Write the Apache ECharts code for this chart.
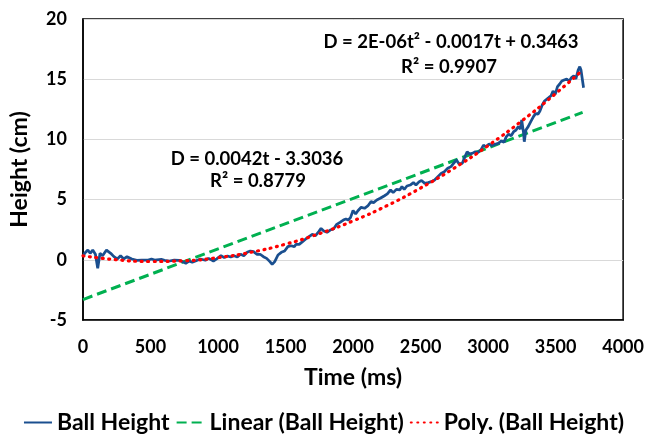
<!DOCTYPE html>
<html>
<head>
<meta charset="utf-8">
<script src="https://cdn.jsdelivr.net/npm/echarts@6/dist/echarts.min.js"></script>
<style>
html,body{margin:0;padding:0;background:#fff;}
#main{width:647px;height:434px;}
</style>
</head>
<body>
<div id="main"></div>
<script>
// Ball Height - measured (ms, cm)
var timeMs = [0, 12, 36, 53, 72, 92, 109, 126, 145, 174, 188, 205, 229, 254, 278, 302, 326, 362, 398, 435,
  483, 507, 531, 580, 604, 640, 676, 712, 737, 761, 785, 809, 833, 869, 906, 930, 966, 990,
  1022, 1046, 1070, 1094, 1118, 1143, 1167, 1191, 1215, 1239, 1263, 1287, 1312, 1336, 1360, 1384, 1401, 1420,
  1444, 1469, 1493, 1517, 1541, 1565, 1577, 1601, 1626, 1650, 1674, 1698, 1722, 1746, 1763, 1783, 1807, 1831,
  1855, 1879, 1903, 1928, 1947, 1964, 1981, 2000, 2019, 2036, 2060, 2085, 2109, 2133, 2152, 2176, 2201, 2230,
  2254, 2278, 2297, 2321, 2346, 2362, 2379, 2399, 2423, 2447, 2466, 2490, 2507, 2531, 2556, 2580, 2604, 2628,
  2652, 2676, 2701, 2725, 2749, 2766, 2785, 2809, 2829, 2845, 2862, 2882, 2906, 2925, 2949, 2966, 2983, 3007,
  3027, 3051, 3075, 3099, 3118, 3135, 3152, 3171, 3190, 3207, 3224, 3239, 3249, 3263, 3268, 3280, 3297, 3316,
  3336, 3353, 3369, 3384, 3401, 3418, 3432, 3449, 3466, 3481, 3497, 3514, 3529, 3546, 3563, 3582, 3601, 3618,
  3635, 3650, 3667, 3679, 3688, 3707];
var heightCm = [0.26, 0.54, 0.81, 0.54, 0.81, 0.46, -0.71, 0.54, 0.34, 0.81, 0.75, 0.54, 0.26, 0.07, 0.34, 0.07, 0.26, 0.07, -0.04, -0.02,
  -0.02, 0.07, -0.02, 0.03, -0.04, -0.10, -0.02, -0.04, -0.15, -0.29, -0.10, -0.21, -0.10, 0.07, -0.04, 0.12, -0.10, 0.07,
  0.34, 0.18, 0.32, 0.23, 0.34, 0.23, 0.46, 0.34, 0.62, 0.73, 0.68, 0.46, 0.46, 0.26, 0.12, -0.15, -0.38, -0.15,
  0.40, 0.62, 0.73, 1.09, 1.17, 1.09, 1.28, 1.28, 1.51, 1.73, 1.92, 2.11, 2.00, 2.34, 2.61, 2.39, 2.28, 2.47,
  2.56, 2.94, 3.11, 3.30, 3.39, 3.30, 3.50, 4.10, 3.80, 4.08, 4.36, 4.28, 4.47, 4.83, 4.75, 4.97, 5.11, 5.30,
  5.47, 5.80, 5.58, 5.85, 5.80, 6.08, 5.85, 6.13, 6.21, 6.41, 6.21, 6.49, 6.58, 6.35, 6.41, 6.49, 6.63, 6.91,
  7.18, 7.32, 7.60, 7.74, 8.07, 8.29, 7.96, 8.01, 8.57, 8.98, 8.79, 8.84, 8.98, 8.90, 9.17, 9.53, 9.39, 9.62,
  9.48, 9.59, 9.67, 9.87, 9.76, 10.23, 10.42, 10.31, 10.65, 10.78, 11.06, 10.86, 11.61, 10.50, 9.81, 10.78, 11.06, 11.47,
  11.89, 12.16, 12.08, 12.36, 12.86, 13.19, 13.27, 13.47, 13.63, 14.02, 13.74, 14.38, 14.58, 14.85, 14.94, 15.02, 14.85, 15.13,
  15.29, 15.02, 15.76, 16.04, 15.76, 14.29];

// Linear trendline (read at ends)
var linTime = [0, 3700];
var linHeight = [-3.30, 12.24];

// Poly trendline
var polyTime = [0, 250, 500, 750, 1000, 1250, 1500, 1750, 2000, 2250, 2500, 2750, 3000, 3250, 3500, 3700];
var polyHeight = [0.33, 0.0, -0.14, -0.08, 0.18, 0.64, 1.3, 2.17, 3.23, 4.49, 5.96, 7.62, 9.48, 11.54, 13.8, 15.76];

var xTicks = [0, 4000, 500];
var yTicks = [-5, 20, 5];

function pairs(xs, ys){
	var out = [];
	for(var i=0;i<xs.length;i++){
		out.push([xs[i], ys[i]]);
	}
	return out;
}

var FONT = 'Lato';
var myChart = echarts.init(document.getElementById('main'));

var option = {
	animation: false,
	grid: {
		left: 74, right: 21, top: 19, bottom: 114,
		show: true,
		borderColor: '#000',
		borderWidth: 1.5,
		backgroundColor: 'transparent'
	},
	xAxis: {
		type: 'value',
		min: xTicks[0], max: xTicks[1], interval: xTicks[2],
		name: 'Time (ms)',
		nameLocation: 'middle',
		nameGap: 46,
		nameTextStyle: {fontFamily: FONT, fontWeight: 'bold', fontSize: 23, color: '#000'},
		axisLine: {show: true, onZero: false, lineStyle: {color: '#000', width: 1.5}},
		axisTick: {show: false},
		splitLine: {show: false},
		axisLabel: {margin: 18, fontFamily: FONT, fontWeight: 'bold', fontSize: 18, color: '#000',
			formatter: function(v){ return String(v); }}
	},
	yAxis: {
		type: 'value',
		min: yTicks[0], max: yTicks[1], interval: yTicks[2],
		name: 'Height (cm)',
		nameLocation: 'middle',
		nameGap: 52,
		nameTextStyle: {fontFamily: FONT, fontWeight: 'bold', fontSize: 23, color: '#000'},
		axisLine: {show: true, lineStyle: {color: '#000', width: 1.5}},
		axisTick: {show: false},
		splitLine: {show: true, lineStyle: {color: '#d9d9d9', width: 1}},
		axisLabel: {margin: 16, fontFamily: FONT, fontWeight: 'bold', fontSize: 18, color: '#000',
			formatter: function(v){ return String(v); }}
	},
	legend: {
		top: 406,
		left: 'center',
		itemWidth: 28,
		itemHeight: 14,
		itemGap: 6,
		itemStyle: {opacity: 0},
		textStyle: {fontFamily: FONT, fontWeight: 'bold', fontSize: 23, color: '#000'},
		data: ['Ball Height', 'Linear (Ball Height)', 'Poly. (Ball Height)']
	},
	series: [
		{
			name: 'Ball Height',
			type: 'line',
			symbol: 'none',
			data: pairs(timeMs, heightCm),
			lineStyle: {color: '#1a4f8f', width: 2.75},
			itemStyle: {color: '#1a4f8f'},
			z: 3
		},
		{
			name: 'Linear (Ball Height)',
			type: 'line',
			symbol: 'none',
			data: pairs(linTime, linHeight),
			lineStyle: {color: '#00b050', width: 3, type: [10, 5]},
			itemStyle: {color: '#00b050'},
			z: 2
		},
		{
			name: 'Poly. (Ball Height)',
			type: 'line',
			symbol: 'none',
			smooth: true,
			data: pairs(polyTime, polyHeight),
			lineStyle: {color: '#ff0000', width: 3.2, type: [1, 5.5], cap: 'round'},
			itemStyle: {color: '#ff0000'},
			z: 4
		}
	],
	graphic: [
		{type: 'text', x: 257, y: 159, style: {text: 'D = 0.0042t - 3.3036', align: 'center', verticalAlign: 'middle', font: 'bold 18.5px ' + FONT, fill: '#000'}},
		{type: 'text', x: 258, y: 181, style: {text: 'R² = 0.8779', align: 'center', verticalAlign: 'middle', font: 'bold 18.5px ' + FONT, fill: '#000'}},
		{type: 'text', x: 451, y: 42, style: {text: 'D = 2E-06t² - 0.0017t + 0.3463', align: 'center', verticalAlign: 'middle', font: 'bold 18.5px ' + FONT, fill: '#000'}},
		{type: 'text', x: 449, y: 67, style: {text: 'R² = 0.9907', align: 'center', verticalAlign: 'middle', font: 'bold 18.5px ' + FONT, fill: '#000'}}
	]
};
myChart.setOption(option);
</script>
</body>
</html>
